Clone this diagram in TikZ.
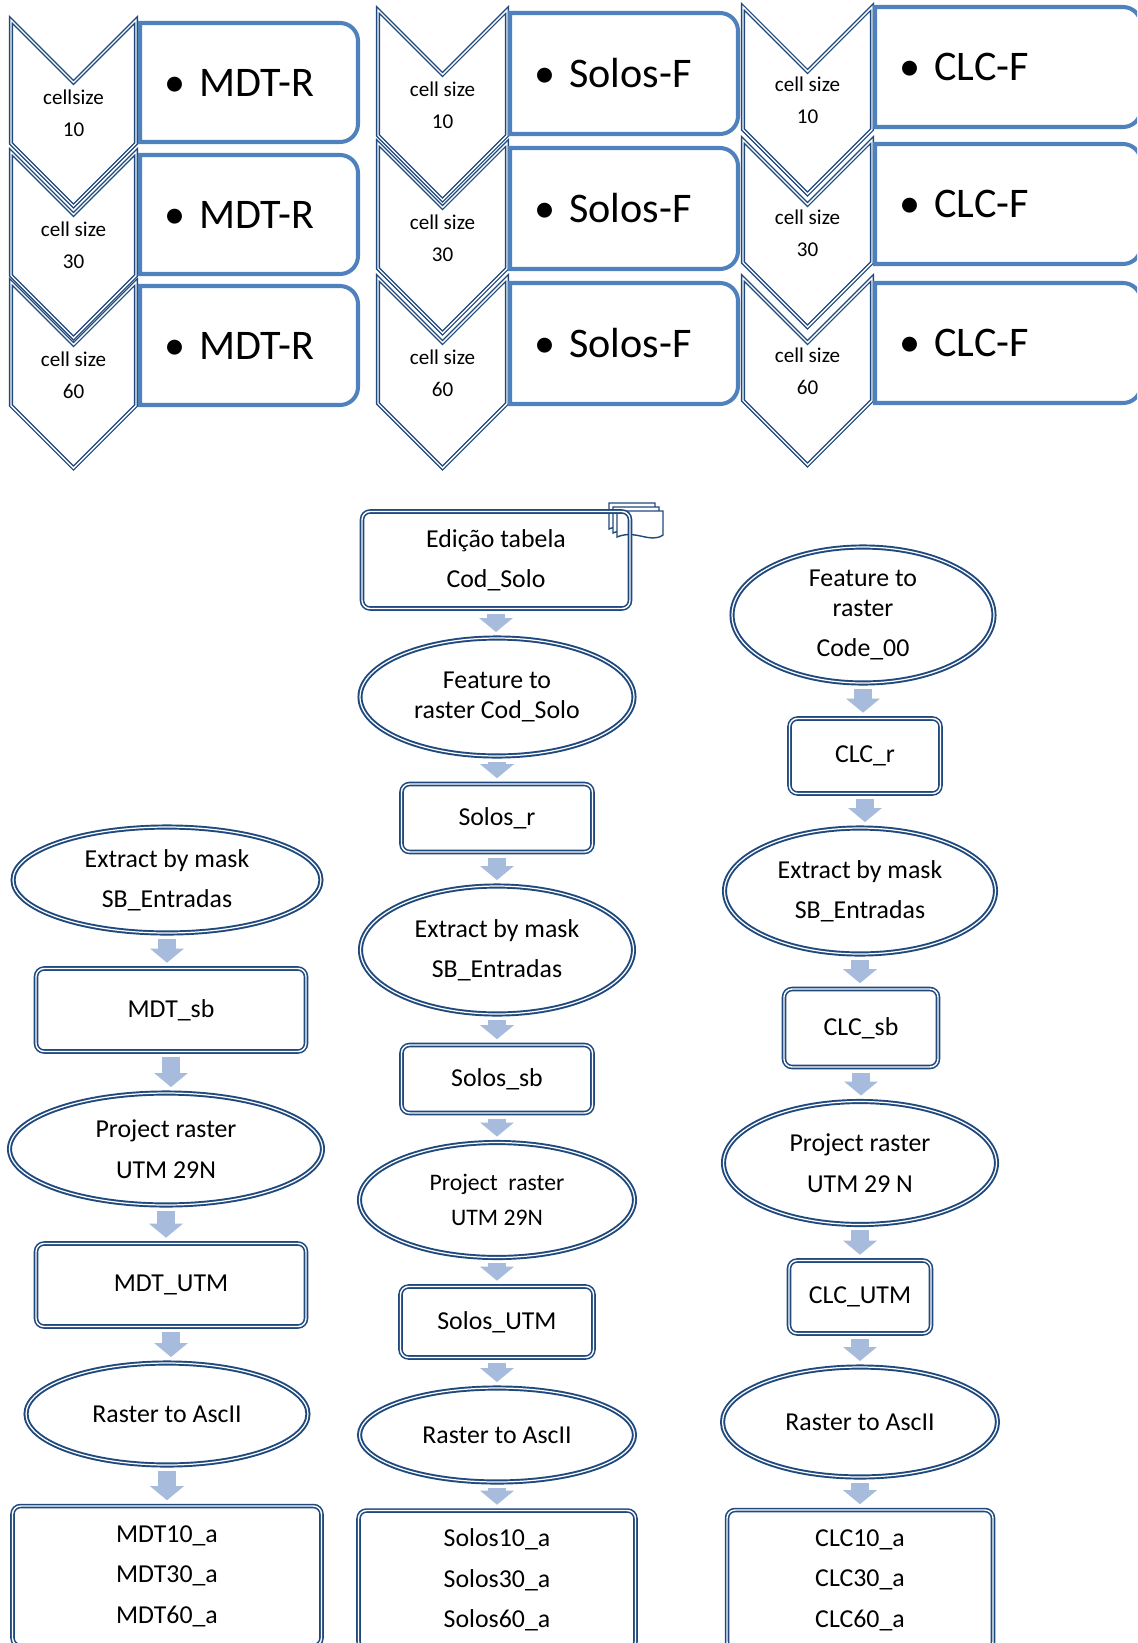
\documentclass[tikz,border=0pt]{standalone}
\usepackage{fontspec}
\setmainfont{Carlito}
\usetikzlibrary{shapes.geometric,arrows.meta}
\definecolor{dkblue}{RGB}{31,73,125}
\definecolor{accentblue}{RGB}{79,129,189}
\definecolor{arrowblue}{RGB}{167,188,220}

\begin{document}
\begin{tikzpicture}[x=0.02cm, y=-0.02cm,
    chev/.style={draw=dkblue, double=white, line width=0.75pt, double distance=0.8pt},
    sizebox/.style={draw=accentblue, line width=2.3pt, fill=white},
    cellsz/.style={align=center, inner sep=0pt, font=\fontsize{12}{18}\selectfont},
    rasterlbl/.style={anchor=west, inner sep=0pt, font=\fontsize{24}{28}\selectfont},
    proc/.style={draw=dkblue, double=white, line width=0.9pt, double distance=0.8pt,
      rounded corners=0.16cm, align=center, inner sep=0pt, font=\fontsize{14.7}{17}\selectfont},
    op/.style={ellipse, draw=dkblue, double=white, line width=1.1pt, double distance=0.7pt,
      fill=white, align=center, inner sep=0pt, font=\fontsize{14.7}{17}\selectfont},
    blockarrow/.style={arrowblue, line width=0.36cm, -{Triangle[width=0.66cm, length=0.28cm]},
      shorten <=0.1cm, shorten >=0.1cm}]
  \useasboundingbox (0,0) rectangle (1137,1643);
  \clip (0,0) rectangle (1137,1643);

  % top: cell sizes per layer
  \foreach \T/\B/\n/\txt in {20/23/10/cellsize, 152/155/30/cell size, 282/286/60/cell size}{
    \draw[chev] (11,\T) -- ++(62.5,62.5) -- ++(62.5,-62.5) -- ++(0,123.5) -- ++(-62.5,62.5) -- ++(-62.5,-62.5) -- cycle;
    \node[cellsz] (mdtcell\n) at (73.5,\T+93) {\txt\\\n};
    \draw[sizebox] (140,\B) -- (340,\B) arc[start angle=-90, end angle=0, radius=18]
      -- (358,\B+101) arc[start angle=0, end angle=90, radius=18] -- (140,\B+119) -- cycle;
    \node[rasterlbl] (mdtr\n) at (164,\B+59.5) {\makebox[0.7cm][l]{\textbullet}MDT-R};
  }
  \foreach \T/\B/\n in {10/13/10, 143/148/30, 278/283/60}{
    \draw[chev] (378,\T) -- ++(64.5,64.5) -- ++(64.5,-64.5) -- ++(0,125.5) -- ++(-64.5,64.5) -- ++(-64.5,-64.5) -- cycle;
    \node[cellsz] (solcell\n) at (442.5,\T+95) {cell size\\\n};
    \draw[sizebox] (510,\B) -- (720,\B) arc[start angle=-90, end angle=0, radius=18]
      -- (738,\B+103) arc[start angle=0, end angle=90, radius=18] -- (510,\B+121) -- cycle;
    \node[rasterlbl] (solf\n) at (534,\B+60.5) {\makebox[0.7cm][l]{\textbullet}Solos-F};
  }
  \foreach \T/\B/\n in {7/7/10, 140/144/30, 278/283/60}{
    \draw[chev] (743,\T) -- ++(64.5,64.5) -- ++(64.5,-64.5) -- ++(0,122.5) -- ++(-64.5,64.5) -- ++(-64.5,-64.5) -- cycle;
    \node[cellsz] (clccell\n) at (807.5,\T+93.5) {cell size\\\n};
    \draw[sizebox] (875,\B) -- (1123,\B) arc[start angle=-90, end angle=0, radius=18]
      -- (1141,\B+102) arc[start angle=0, end angle=90, radius=18] -- (875,\B+120) -- cycle;
    \node[rasterlbl] (clcf\n) at (899,\B+60) {\makebox[0.7cm][l]{\textbullet}CLC-F};
  }

  % MDT chain
  \node[op, minimum width=6.16cm, minimum height=2.12cm] (mdtmask) at (167,880) {Extract by mask\\[6pt]SB\_Entradas};
  \node[proc, minimum width=5.4cm, minimum height=1.66cm] (mdtsb) at (171,1010) {MDT\_sb};
  \node[op, minimum width=6.26cm, minimum height=2.24cm] (mdtproj) at (166,1149) {Project raster\\[6pt]UTM 29N};
  \node[proc, minimum width=5.4cm, minimum height=1.66cm] (mdtutm) at (171,1285) {MDT\_UTM};
  \node[op, minimum width=5.64cm, minimum height=2.04cm] (mdtascii) at (167,1414) {Raster to AscII};
  \node[proc, minimum width=6.18cm, minimum height=2.8cm] (mdtout) at (167,1576) {MDT10\_a\\[6pt]MDT30\_a\\[6pt]MDT60\_a};

  % Solos chain
  \foreach \k in {0,4,8}
    \draw[dkblue, line width=0.8pt, fill=white] (609+\k,503+\k) -- (655+\k,503+\k) -- (655+\k,527+\k)
      .. controls (642+\k,536+\k) and (628+\k,521+\k) .. (609+\k,529+\k) -- cycle;
  \node[proc, minimum width=5.36cm, minimum height=1.94cm] (solcod) at (496,560) {Edição tabela\\[6pt]Cod\_Solo};
  \node[op, minimum width=5.48cm, minimum height=2.36cm] (solfeat) at (497,697) {Feature to\\raster Cod\_Solo};
  \node[proc, minimum width=3.82cm, minimum height=1.36cm] (solr) at (497,818) {Solos\_r};
  \node[op, minimum width=5.46cm, minimum height=2.56cm] (solmask) at (497,950) {Extract by mask\\[6pt]SB\_Entradas};
  \node[proc, minimum width=3.82cm, minimum height=1.36cm] (solsb) at (497,1079) {Solos\_sb};
  \node[op, minimum width=5.5cm, minimum height=2.3cm, font=\fontsize{13.5}{16}\selectfont] (solproj) at (497,1200) {Project\ \ raster\\[4pt]UTM 29N};
  \node[proc, minimum width=3.86cm, minimum height=1.42cm] (solutm) at (497,1322) {Solos\_UTM};
  \node[op, minimum width=5.5cm, minimum height=1.88cm] (solascii) at (497,1435) {Raster to AscII};
  \node[proc, minimum width=5.54cm, minimum height=2.78cm] (solout) at (497,1580) {Solos10\_a\\[6pt]Solos30\_a\\[6pt]Solos60\_a};

  % CLC chain
  \node[op, minimum width=5.24cm, minimum height=2.72cm] (clcfeat) at (863,615) {Feature to\\raster\\[6pt]Code\_00};
  \node[proc, minimum width=3.02cm, minimum height=1.5cm] (clcr) at (865,756) {CLC\_r};
  \node[op, minimum width=5.42cm, minimum height=2.52cm] (clcmask) at (860,891) {Extract by mask\\[6pt]SB\_Entradas};
  \node[proc, minimum width=3.08cm, minimum height=1.56cm] (clcsb) at (861,1028) {CLC\_sb};
  \node[op, minimum width=5.46cm, minimum height=2.46cm] (clcproj) at (860,1163) {Project raster\\[6pt]UTM 29 N};
  \node[proc, minimum width=2.84cm, minimum height=1.46cm] (clcutm) at (860,1297) {CLC\_UTM};
  \node[op, minimum width=5.5cm, minimum height=2.2cm] (clcascii) at (860,1422) {Raster to AscII};
  \node[proc, minimum width=5.32cm, minimum height=2.8cm] (clcout) at (860,1580) {CLC10\_a\\[6pt]CLC30\_a\\[6pt]CLC60\_a};

  \foreach \a/\b in {mdtmask/mdtsb, mdtsb/mdtproj, mdtproj/mdtutm, mdtutm/mdtascii, mdtascii/mdtout,
      solcod/solfeat, solfeat/solr, solr/solmask, solmask/solsb, solsb/solproj, solproj/solutm,
      solutm/solascii, solascii/solout,
      clcfeat/clcr, clcr/clcmask, clcmask/clcsb, clcsb/clcproj, clcproj/clcutm, clcutm/clcascii,
      clcascii/clcout}
    \draw[blockarrow] (\a.south) -- (\a.south |- \b.north);
\end{tikzpicture}
\end{document}
